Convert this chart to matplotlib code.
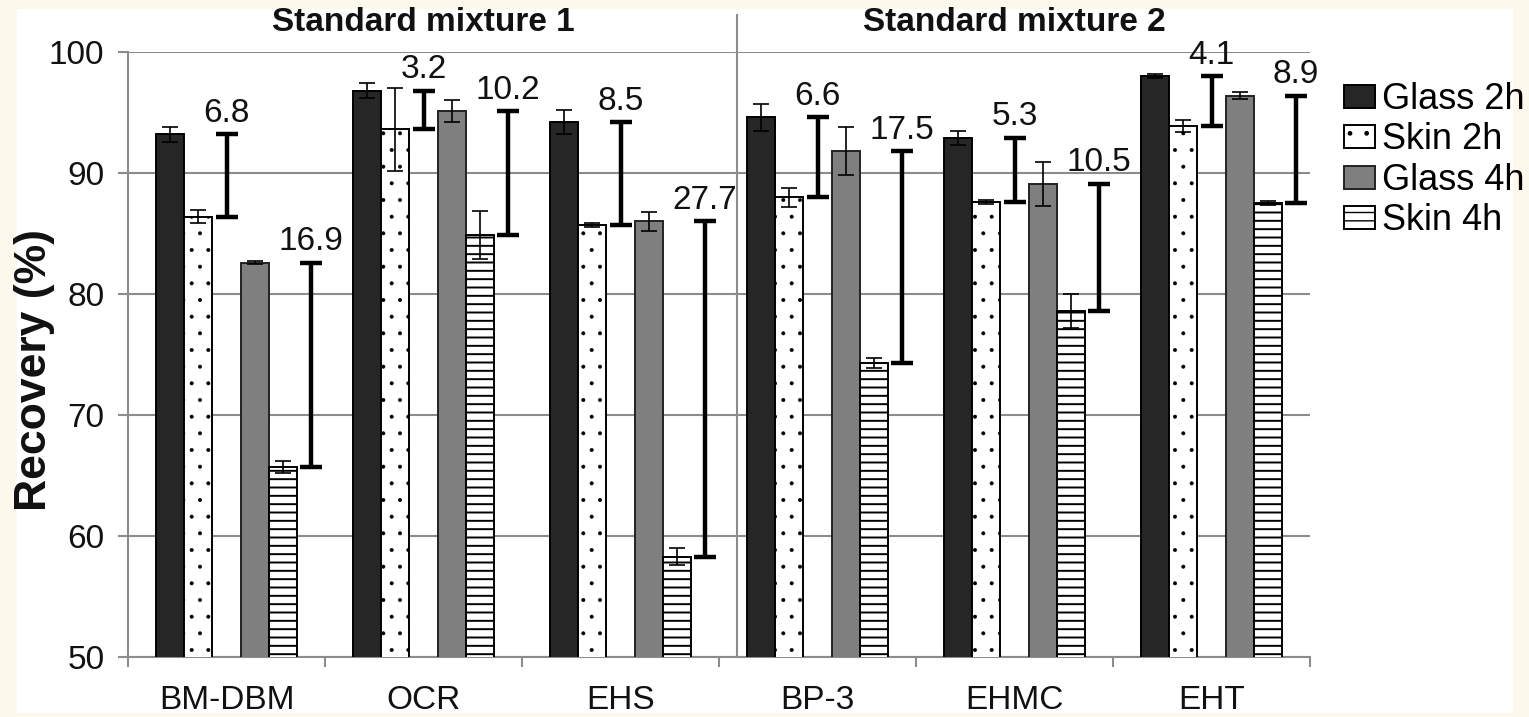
import numpy as np
import matplotlib
matplotlib.use("Agg")
import matplotlib.pyplot as plt
from matplotlib.patches import Rectangle

plt.rcParams['font.family'] = ['Liberation Sans', 'DejaVu Sans']

categories = ['BM-DBM', 'OCR', 'EHS', 'BP-3', 'EHMC', 'EHT']
glass_2h = [93.2, 96.8, 94.2, 94.6, 92.9, 98.0]
skin_2h = [86.4, 93.6, 85.7, 88.0, 87.6, 93.9]
glass_4h = [82.6, 95.1, 86.0, 91.8, 89.1, 96.4]
skin_4h = [65.7, 84.9, 58.3, 74.3, 78.6, 87.5]
err_glass_2h = [0.6, 0.6, 1.0, 1.1, 0.6, 0.15]
err_skin_2h = [0.55, 3.4, 0.15, 0.8, 0.2, 0.5]
err_glass_4h = [0.15, 0.9, 0.8, 2.0, 1.8, 0.3]
err_skin_4h = [0.5, 2.0, 0.7, 0.4, 1.4, 0.15]
diff_2h = ['6.8', '3.2', '8.5', '6.6', '5.3', '4.1']
diff_4h = ['16.9', '10.2', '27.7', '17.5', '10.5', '8.9']
group_titles = ['Standard mixture 1', 'Standard mixture 2']

grey = '#8c8c8c'
txt = '#111111'

fig = plt.figure(figsize=(15.29, 7.17), dpi=100)
fig.patch.set_facecolor('#fdf8ec')
fig.patches.append(Rectangle((17/1529, 1-713/717), (1513-17)/1529, (713-9)/717,
                             transform=fig.transFigure, facecolor='white', edgecolor='none', zorder=-10))

ax = fig.add_axes([128/1529, 1-657/717, 1182/1529, 605/717])
ax.set_facecolor('white')

x = np.arange(len(categories))
w = 1/7
slot = lambda k: x + (k + 0.5) / 7

series = [
    ('Glass 2h', glass_2h, err_glass_2h, 1, 1.0, dict(color='#262626', edgecolor='black')),
    ('Skin 2h', skin_2h, err_skin_2h, 2, 0.4, dict(color='white', edgecolor='black', hatch='.')),
    ('Glass 4h', glass_4h, err_glass_4h, 4, 1.0, dict(color='#7f7f7f', edgecolor='#222222')),
    ('Skin 4h', skin_4h, err_skin_4h, 5, 1.4, dict(color='white', edgecolor='black', hatch='--')),
]
for name, vals, errs, k, hlw, style in series:
    with plt.rc_context({'hatch.linewidth': hlw}):
        bars = ax.bar(slot(k), vals, w, yerr=errs, label=name, linewidth=1.4, zorder=3,
                      error_kw=dict(ecolor='black', elinewidth=1.2, capsize=6, capthick=1.2), **style)
    for b in bars:
        if hasattr(b, 'set_hatch_linewidth'):
            b.set_hatch_linewidth(hlw)

# range bars between glass and skin
for top, bot, labels, k in [(glass_2h, skin_2h, diff_2h, 3), (glass_4h, skin_4h, diff_4h, 6)]:
    top = np.array(top)
    bot = np.array(bot)
    ax.errorbar(slot(k), (top + bot) / 2, yerr=(top - bot) / 2, fmt='none', ecolor='black',
                elinewidth=3.2, capsize=8, capthick=3.2, zorder=4)
    for xi, yi, lab in zip(slot(k), top, labels):
        ax.annotate(lab, (xi, yi), xytext=(0, 4), textcoords='offset points',
                    ha='center', va='bottom', fontsize=24, color=txt, zorder=5)

ax.set_xlim(0, 6)
ax.set_ylim(50, 100)
ax.set_yticks(np.arange(50, 101, 10))
ax.set_xticks(np.arange(0, 7))
ax.set_xticklabels([])
ax.set_xticks(x + 0.5, minor=True)
ax.set_xticklabels(categories, minor=True)
ax.tick_params(axis='x', which='major', length=7, width=1.5, color=grey)
ax.tick_params(axis='x', which='minor', length=0, pad=20, labelsize=24, labelcolor=txt)
ax.tick_params(axis='y', length=7, width=1.5, color=grey, pad=10, labelsize=24, labelcolor=txt)

ax.grid(axis='y', color=grey, linewidth=1.5)
ax.set_axisbelow(True)
for s in ['top', 'right']:
    ax.spines[s].set_visible(False)
for s in ['left', 'bottom']:
    ax.spines[s].set_color(grey)
    ax.spines[s].set_linewidth(1.5)

ax.plot([3.09, 3.09], [50, 103.06], color=grey, linewidth=1.5, clip_on=False, zorder=2)
for i, t in enumerate(group_titles):
    ax.text(1.5 + 3 * i, 102.4, t, ha='center', va='center', fontsize=24,
            fontweight='bold', color=txt, clip_on=False)

fig.text(35/1529, 1-370/717, 'Recovery (%)', rotation=90, ha='center', va='center',
         fontsize=32, fontweight='bold', color=txt)

ax.legend(loc='upper left', bbox_to_anchor=(1344/1529, 1-82/717), bbox_transform=fig.transFigure,
          frameon=False, fontsize=26, handlelength=0.85, handleheight=0.6,
          handletextpad=0.2, labelspacing=0.15, borderaxespad=0, borderpad=0)

fig.savefig('out.png', dpi=100, facecolor=fig.get_facecolor())
